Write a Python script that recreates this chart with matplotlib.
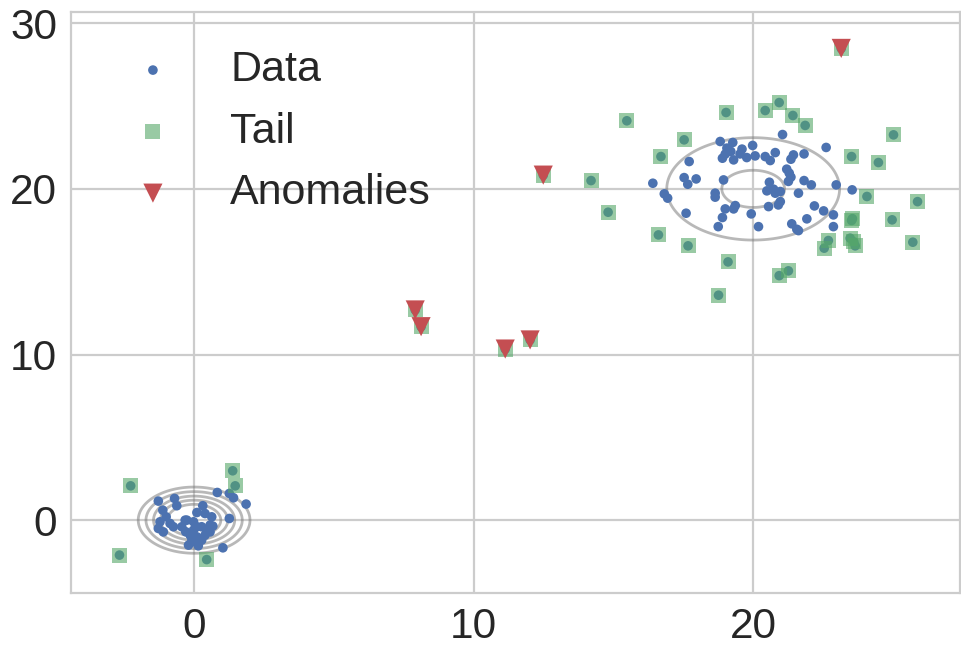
import matplotlib
matplotlib.use("Agg")
import matplotlib.pyplot as plt
import numpy as np
import seaborn as sns

# core points of the small cluster around (0, 0)
small_x = [-1.28, -0.70, -0.62, -1.12, -1.00, -1.22, -0.86, -1.28, -1.10, -0.44,
           -0.32, -0.02, 0.10, 0.31, 0.39, 0.63, 0.57, 0.27, -0.02, -0.14,
           0.10, 0.39, 0.57, -0.20, 0.15, 1.03, 1.26, 0.83, 1.26, 1.41,
           1.86, -0.08, 0.27, -0.74, 0.10, 0.45, 0.67, -0.30, 0.00, -0.26]
small_y = [1.15, 1.31, 0.87, 0.60, 0.20, -0.10, -0.20, -0.50, -0.71, -0.40,
           0.00, -0.10, 0.46, 0.87, 0.40, 0.20, -0.30, -0.40, -0.60, -0.91,
           -1.01, -0.91, -0.71, -1.51, -1.55, -1.67, 0.10, 1.67, 1.61, 1.35,
           0.97, -1.21, -1.21, -0.40, -0.40, -0.60, -0.36, -0.70, -1.30, 0.00]

# core points of the big cluster around (20, 20)
big_x = [21.05, 18.82, 19.27, 19.98, 19.06, 19.20, 19.60, 19.00, 19.53, 18.90,
         19.30, 19.77, 20.07, 20.43, 20.79, 20.61, 21.44, 21.82, 21.35, 22.61,
         17.71, 21.20, 21.29, 21.35, 21.26, 21.82, 22.08, 22.97, 23.54, 20.58,
         20.49, 20.73, 20.97, 20.79, 21.62, 20.97, 20.90, 20.55, 22.19, 22.52,
         22.87, 22.87, 21.92, 21.38, 21.56, 21.62, 20.19, 19.93, 19.36, 19.30,
         19.00, 18.90, 18.75, 17.60, 18.64, 18.64, 18.94, 17.53, 17.96, 17.66,
         16.41, 16.82, 16.94]
big_y = [23.28, 22.86, 22.80, 22.62, 22.46, 22.26, 22.40, 22.10, 22.11, 21.85,
         21.75, 21.89, 21.99, 21.95, 22.19, 21.71, 22.05, 22.11, 21.79, 22.50,
         21.65, 21.19, 20.95, 20.71, 20.45, 20.50, 20.24, 20.24, 19.94, 20.40,
         19.88, 19.98, 19.84, 19.74, 19.74, 19.23, 19.03, 18.93, 18.97, 18.67,
         18.43, 17.72, 18.19, 17.89, 17.56, 17.48, 17.72, 18.49, 18.99, 18.79,
         18.79, 18.27, 17.72, 18.53, 19.74, 19.50, 20.54, 20.68, 20.60, 20.28,
         20.34, 19.70, 19.44]

# tail points (outside the inner mass of each cluster)
tail_x = [-2.27, -2.67, 1.38, 1.47, 0.45,
          15.48, 19.03, 20.43, 20.93, 21.42, 21.86, 17.53, 16.70, 25.02, 23.52,
          24.48, 14.81, 24.07, 25.88, 23.52, 24.97, 16.61, 17.67, 22.69, 22.54,
          23.47, 23.65, 25.71, 19.10, 21.26, 20.93, 18.76, 14.20, 23.60, 23.55]
tail_y = [2.07, -2.11, 2.98, 2.07, -2.38,
          24.11, 24.61, 24.73, 25.21, 24.43, 23.83, 22.96, 21.95, 23.26, 21.95,
          21.59, 18.59, 19.54, 19.23, 18.09, 18.13, 17.22, 16.56, 16.88, 16.42,
          17.02, 16.56, 16.78, 15.59, 15.05, 14.76, 13.58, 20.50, 16.80, 18.20]

# anomalies (also part of the tail)
anom_x = [7.91, 8.12, 11.13, 12.02, 12.49, 23.15]
anom_y = [12.69, 11.68, 10.33, 10.88, 20.83, 28.48]

# gaussian mixture used for the density contours
centers = [(0.0, 0.0), (20.0, 20.0)]
sigmas = [0.8, 2.27]
weights = [0.5, 0.45]
levels = [0.0055, 0.0123, 0.024, 0.040, 0.061]

sns.set_theme(style="whitegrid")
plt.rcParams['font.family'] = ['Liberation Sans', 'DejaVu Sans']
plt.rcParams['grid.linewidth'] = 1.6
plt.rcParams['axes.linewidth'] = 1.6

all_x = np.concatenate([small_x, big_x, tail_x, anom_x])
all_y = np.concatenate([small_y, big_y, tail_y, anom_y])
t_x = np.concatenate([tail_x, anom_x])
t_y = np.concatenate([tail_y, anom_y])

fig = plt.figure(figsize=(9.61, 6.46), dpi=100)
ax = fig.add_axes([0.074, 0.082, 0.925, 0.9])

gx, gy = np.meshgrid(np.linspace(-5, 28, 500), np.linspace(-5, 31, 500))
dens = np.zeros_like(gx)
for (cx, cy), s, w in zip(centers, sigmas, weights):
    dens += w / (2 * np.pi * s ** 2) * np.exp(-((gx - cx) ** 2 + (gy - cy) ** 2) / (2 * s ** 2))
ax.contour(gx, gy, dens, levels=levels, colors='0.45', alpha=0.5, linewidths=2, zorder=1)

ax.scatter(all_x, all_y, s=48, color='#4C72B0', edgecolors='none', label='Data', zorder=2)
ax.scatter(t_x, t_y, s=117, marker='s', color='#55A868', alpha=0.6, edgecolors='none', label='Tail', zorder=3)
ax.scatter(anom_x, anom_y, s=190, marker='v', color='#C44E52', edgecolors='none', label='Anomalies', zorder=4)

ax.set_xlim(-4.4, 27.4)
ax.set_ylim(-4.4, 30.7)
ax.set_xticks([0, 10, 20])
ax.set_yticks([0, 10, 20, 30])
ax.tick_params(labelsize=30.5, length=0, pad=10, colors='0.15')
for sp in ax.spines.values():
    sp.set_color('0.8')

ax.legend(loc='upper left', fontsize=31, frameon=False, scatterpoints=1)

fig.savefig("out.png", dpi=100)
